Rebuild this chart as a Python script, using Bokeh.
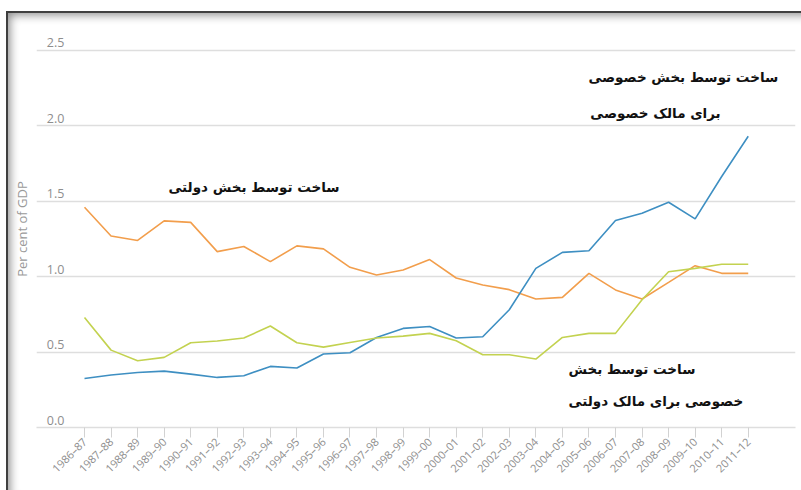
import math
from bokeh.plotting import figure
from bokeh.models import FixedTicker, Range1d, InlineStyleSheet
from bokeh.core.properties import value
from bokeh.embed import file_html
from bokeh.resources import INLINE

periods = ["1986–87", "1987–88", "1988–89", "1989–90", "1990–91", "1991–92",
           "1992–93", "1993–94", "1994–95", "1995–96", "1996–97", "1997–98",
           "1998–99", "1999–00", "2000–01", "2001–02", "2002–03", "2003–04",
           "2004–05", "2005–06", "2006–07", "2007–08", "2008–09", "2009–10",
           "2010–11", "2011–12"]

# built by the public sector
public_built = [1.46, 1.27, 1.24, 1.37, 1.36, 1.166, 1.20, 1.10, 1.204, 1.184,
                1.062, 1.011, 1.044, 1.113, 0.991, 0.945, 0.914, 0.852, 0.863,
                1.022, 0.912, 0.852, 0.962, 1.073, 1.022, 1.022]
# built by the private sector for private owners
private_for_private = [0.325, 0.348, 0.365, 0.374, 0.354, 0.332, 0.343, 0.405,
                       0.394, 0.487, 0.496, 0.597, 0.657, 0.67, 0.593, 0.602,
                       0.781, 1.055, 1.161, 1.172, 1.372, 1.421, 1.493, 1.383,
                       1.664, 1.931]
# built by the private sector for public owners
private_for_public = [0.73, 0.513, 0.443, 0.465, 0.562, 0.573, 0.593, 0.673,
                      0.562, 0.533, 0.564, 0.593, 0.606, 0.624, 0.575, 0.482,
                      0.482, 0.454, 0.597, 0.624, 0.624, 0.847, 1.033, 1.055,
                      1.082, 1.082]

y_ticks = [0.0, 0.5, 1.0, 1.5, 2.0, 2.5]
y_tick_labels = ["0.0", "0.5", "1.0", "1.5", "2.0", "2.5"]
y_title = "Per cent of GDP"

ann_texts = ["ساخت توسط بخش خصوصی", "برای مالک خصوصی",
             "ساخت توسط بخش دولتی",
             "ساخت توسط بخش", "خصوصی برای مالک دولتی"]
ann_x = [18.98, 19.05, 3.16, 18.23, 18.23]
ann_y = [2.327, 2.088, 1.597, 0.39, 0.177]

ORANGE = "#F29E4C"
BLUE = "#3E8FC2"
GREEN = "#C3D250"
GRID = "#dedede"
LABEL = "#8e8e8e"

idx = list(range(len(periods)))

p = figure(width=801, height=490, output_backend="svg", toolbar_location=None,
           x_range=Range1d(-1.808, 26.78), y_range=Range1d(0, 2.632),
           min_border_left=36, min_border_right=6, min_border_top=30,
           min_border_bottom=63)
p.outline_line_color = None
p.background_fill_color = "white"
p.border_fill_color = None

# dark screenshot-like frame with inner shadow on the left and top edges
p.stylesheets = [InlineStyleSheet(css="""
:host { position: relative; background: white; }
:host::after {
  content: ""; position: absolute; left: 6px; top: 11px; right: 0; bottom: 0;
  pointer-events: none; z-index: 50;
  box-shadow: inset 2px 2px 0 0 rgba(45,45,45,0.85),
              inset 7px 7px 10px -3px rgba(0,0,0,0.45);
}
""")]

p.xgrid.visible = False
p.yaxis.ticker = FixedTicker(ticks=[])
p.ygrid.ticker = FixedTicker(ticks=y_ticks)
p.ygrid.grid_line_color = GRID
p.ygrid.grid_line_width = 1.5

p.yaxis.major_label_standoff = 0
p.yaxis.major_tick_out = 0
p.yaxis.major_tick_in = 0
p.yaxis.minor_tick_out = 0
p.yaxis.minor_tick_in = 0
p.yaxis.axis_line_color = None
p.yaxis.axis_label = y_title
p.yaxis.axis_label_standoff = 6
p.yaxis.axis_label_text_font = "Open Sans"
p.yaxis.axis_label_text_font_style = "normal"
p.yaxis.axis_label_text_font_size = "13px"
p.yaxis.axis_label_text_color = "#9a9a9a"

p.xaxis.ticker = FixedTicker(ticks=idx)
p.xaxis.major_label_overrides = {i: s for i, s in zip(idx, periods)}
p.xaxis.major_label_orientation = math.pi / 4
p.xaxis.major_label_text_font = "Open Sans"
p.xaxis.major_label_text_font_size = "11px"
p.xaxis.major_label_text_color = LABEL
p.xaxis.major_label_standoff = 2
p.xaxis.axis_line_color = GRID
p.xaxis.axis_line_width = 1.5
p.xaxis.major_tick_line_color = "#d2d2d2"
p.xaxis.major_tick_out = 10
p.xaxis.major_tick_in = 0
p.xaxis.minor_tick_out = 0
p.xaxis.minor_tick_in = 0

p.line(idx, public_built, line_color=ORANGE, line_width=1.6)
p.line(idx, private_for_private, line_color=BLUE, line_width=1.6)
p.line(idx, private_for_public, line_color=GREEN, line_width=1.6)

p.text(x=[-1.42] * len(y_ticks), y=y_ticks, text=y_tick_labels,
       text_align="left", text_baseline="bottom", y_offset=-3,
       text_font=value("Open Sans"), text_font_size="12.5px", text_color=LABEL)

p.text(x=ann_x, y=ann_y, text=ann_texts, text_align="left",
       text_baseline="middle", text_font=value("DejaVu Sans"),
       text_font_style="bold", text_font_size="13.5px", text_color="#111111")

open("out.html", "w").write(file_html(p, INLINE))
